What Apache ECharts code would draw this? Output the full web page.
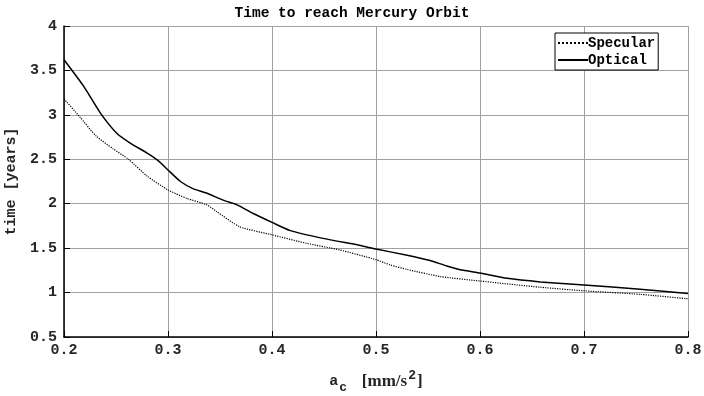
<!DOCTYPE html>
<html><head><meta charset="utf-8">
<script src="https://cdn.jsdelivr.net/npm/echarts@6/dist/echarts.min.js"></script>
<style>html,body{margin:0;padding:0;background:#fff}#c{width:704px;height:396px}</style>
</head><body><div id="c"></div>
<script>
const xTicks = [0.2, 0.3, 0.4, 0.5, 0.6, 0.7, 0.8];
const specularX = [0.20, 0.215, 0.231, 0.247, 0.262, 0.28, 0.30, 0.318, 0.337, 0.347, 0.369, 0.40, 0.433, 0.465, 0.50, 0.514, 0.53, 0.562, 0.60, 0.658, 0.70, 0.754, 0.80];
const specularY = [3.18, 2.98, 2.76, 2.62, 2.50, 2.31, 2.155, 2.06, 1.99, 1.91, 1.74, 1.65, 1.555, 1.48, 1.37, 1.31, 1.26, 1.18, 1.13, 1.06, 1.02, 0.98, 0.93];
const opticalX = [0.20, 0.219, 0.235, 0.251, 0.264, 0.28, 0.29, 0.30, 0.312, 0.324, 0.337, 0.353, 0.366, 0.382, 0.40, 0.417, 0.449, 0.485, 0.50, 0.53, 0.552, 0.568, 0.584, 0.60, 0.626, 0.658, 0.70, 0.754, 0.80];
const opticalY = [3.62, 3.32, 3.02, 2.79, 2.68, 2.57, 2.49, 2.38, 2.25, 2.17, 2.12, 2.04, 1.99, 1.89, 1.79, 1.70, 1.61, 1.53, 1.49, 1.42, 1.36, 1.30, 1.25, 1.22, 1.16, 1.12, 1.085, 1.037, 0.99];

const font = 'Liberation Mono';
const chart = echarts.init(document.getElementById('c'));
chart.setOption({
  animation: false,
  backgroundColor: '#fff',
  title: {
    text: 'Time to reach Mercury Orbit', left: 'center', top: 1,
    textStyle: {fontFamily: font, fontWeight: 'bold', fontSize: 14.5, color: '#000'}
  },
  legend: {
    orient: 'vertical', left: 555, top: 33,
    backgroundColor: '#fff', borderColor: '#000', borderWidth: 1, borderRadius: 0,
    padding: [3, 3, 3, 2], itemGap: 3, itemWidth: 30, itemHeight: 14,
    itemStyle: {opacity: 0},
    textStyle: {fontFamily: font, fontWeight: 'bold', fontSize: 14, color: '#000', padding: [0, 0, 0, -5]},
    data: ['Specular', 'Optical']
  },
  grid: {left: 64, right: 16, top: 26, bottom: 59, containLabel: false, outerBoundsMode: 'none'},
  xAxis: {
    type: 'value', min: 0.2, max: 0.8, interval: 0.1,
    axisLine: {lineStyle: {color: '#000', width: 1.5}},
    axisTick: {inside: true, length: 6, lineStyle: {color: '#000'}},
    splitLine: {show: true, lineStyle: {color: '#a0a0a0', width: 1}},
    axisLabel: {fontFamily: font, fontWeight: 'bold', fontSize: 15, color: '#262626', margin: 6,
      formatter: v => xTicks.includes(+v.toFixed(1)) ? v.toFixed(1) : ''},
    name: '{a|a}{sub|c}  {b|[mm/s}{sup|2}{b|]}', nameLocation: 'middle', nameGap: 32,
    nameTextStyle: {
      rich: {
        a: {fontFamily: font, fontWeight: 'bold', fontSize: 15, color: '#262626'},
        b: {fontFamily: 'Liberation Serif', fontWeight: 'bold', fontSize: 17, color: '#262626'},
        sub: {fontFamily: font, fontWeight: 'bold', fontSize: 13, color: '#262626', verticalAlign: 'bottom', padding: [12, 8, 0, 1]},
        sup: {fontFamily: font, fontWeight: 'bold', fontSize: 13, color: '#262626', verticalAlign: 'top', padding: [0, 1, 10, 1]}
      }
    }
  },
  yAxis: {
    type: 'value', min: 0.5, max: 4, interval: 0.5,
    axisLine: {show: true, lineStyle: {color: '#000', width: 1.5}},
    axisTick: {show: true, inside: true, length: 6, lineStyle: {color: '#000'}},
    splitLine: {show: true, lineStyle: {color: '#a0a0a0', width: 1}},
    axisLabel: {fontFamily: font, fontWeight: 'bold', fontSize: 15, color: '#262626', margin: 7,
      formatter: v => String(+v.toFixed(1))},
    name: 'time [years]', nameLocation: 'middle', nameGap: 39, nameRotate: 90,
    nameTextStyle: {fontFamily: font, fontWeight: 'bold', fontSize: 15, color: '#262626'}
  },
  series: [
    {name: 'Specular', type: 'line', symbol: 'none', color: '#000', smooth: 0.2,
     lineStyle: {type: 'dotted', width: 1.2, color: '#000'},
     data: specularX.map((x, i) => [x, specularY[i]])},
    {name: 'Optical', type: 'line', symbol: 'none', color: '#000', smooth: 0.2,
     lineStyle: {type: 'solid', width: 1.5, color: '#000'},
     data: opticalX.map((x, i) => [x, opticalY[i]])}
  ]
});
</script></body></html>
